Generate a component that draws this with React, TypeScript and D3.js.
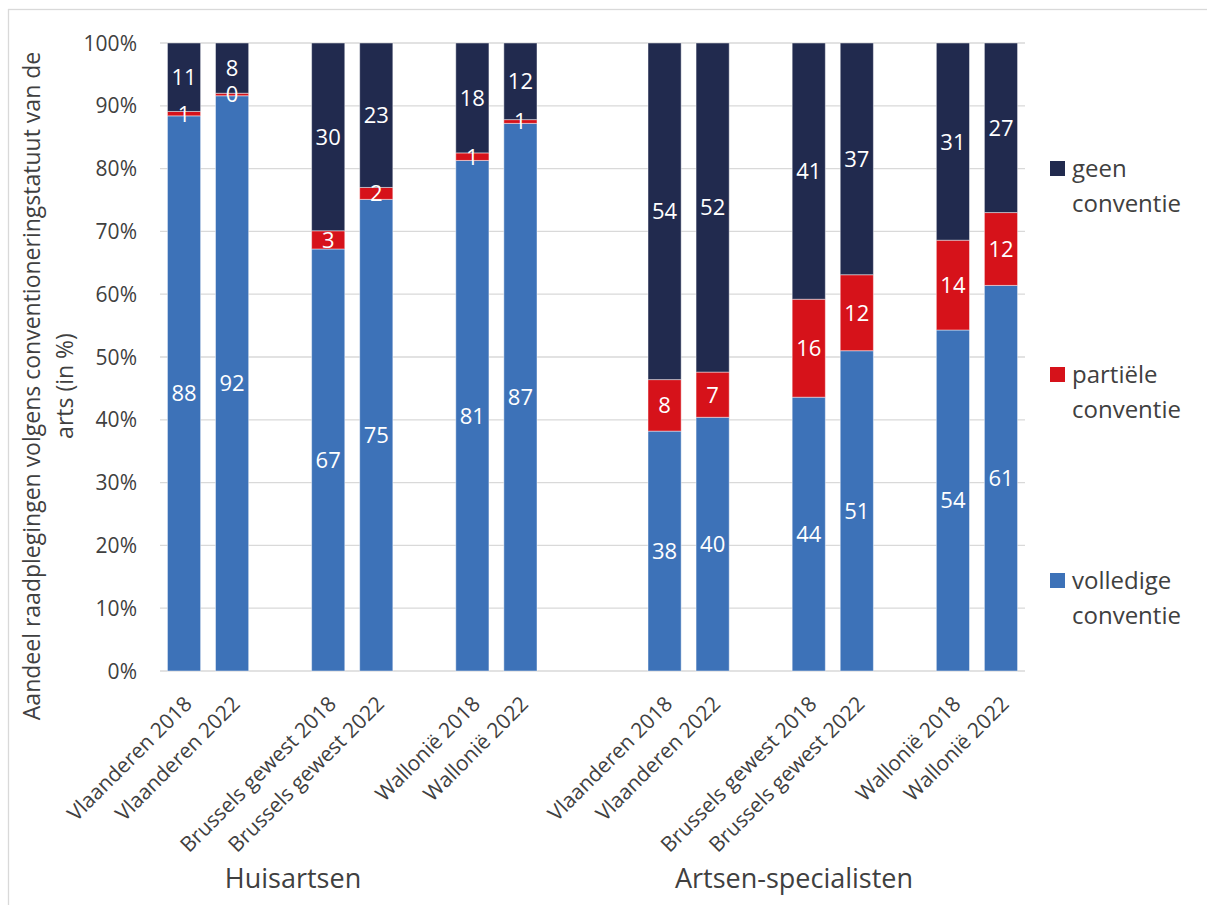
import React from "react";
import * as d3 from "d3";

const categories = [
  "Vlaanderen 2018",
  "Vlaanderen 2022",
  "Brussels gewest 2018",
  "Brussels gewest 2022",
  "Wallonië 2018",
  "Wallonië 2022",
];
const groups = ["Huisartsen", "Artsen-specialisten"];
const seriesNames = ["volledige conventie", "partiële conventie", "geen conventie"];

// Huisartsen
const volledigeHuis = [88.4, 91.6, 67.2, 75.1, 81.3, 87.2];
const partieleHuis = [0.7, 0.4, 2.9, 1.9, 1.2, 0.6];
const geenHuis = [10.9, 8.0, 29.9, 23.0, 17.5, 12.2];
// Artsen-specialisten
const volledigeSpec = [38.2, 40.4, 43.6, 51.0, 54.3, 61.4];
const partieleSpec = [8.2, 7.2, 15.6, 12.1, 14.3, 11.6];
const geenSpec = [53.6, 52.4, 40.8, 36.9, 31.4, 27.0];

const yTicks = [0, 10, 20, 30, 40, 50, 60, 70, 80, 90, 100];

const colors = ["#3d72b8", "#d6121a", "#212a4e"];
const FONT = "'Open Sans', 'Noto Sans', sans-serif";
const TXT = "#404040";

const W = 1207;
const H = 905;
const plot = { left: 160, right: 1025, top: 43, bottom: 671 };

export default function App() {
  const slots = d3.range(18);
  const x = d3
    .scaleBand<number>()
    .domain(slots)
    .range([plot.left, plot.right])
    .paddingInner(0.31)
    .paddingOuter(0.155);
  const y = d3.scaleLinear().domain([0, 100]).range([plot.bottom, plot.top]);

  const bars: { slot: number; label: string; values: number[] }[] = [];
  const table = [
    [volledigeHuis, partieleHuis, geenHuis],
    [volledigeSpec, partieleSpec, geenSpec],
  ];
  groups.forEach((g, gi) => {
    categories.forEach((c, ci) => {
      const slot = gi * 10 + Math.floor(ci / 2) * 3 + (ci % 2);
      bars.push({ slot, label: c, values: table[gi].map((s) => s[ci]) });
    });
  });

  const stack = bars.map((b) => {
    let acc = 0;
    return b.values.map((v, si) => {
      const y0 = acc;
      acc += v;
      return { si, y0, y1: acc, v };
    });
  });

  const bw = x.bandwidth();
  const groupLabelX = [293, 794];
  const legendY = [573, 367, 161];
  const midY = (plot.top + plot.bottom) / 2 + 29;

  return (
    <svg
      width={W}
      height={H}
      style={{ position: "absolute", left: 0, top: 0, background: "#fff" }}
      fontFamily={FONT}
    >
      <rect x={8.5} y={9.5} width={1300} height={1000} fill="#fff" stroke="#d9d9d9" strokeWidth={1.3} />

      {yTicks.map((t) => (
        <g key={t}>
          <line x1={plot.left} x2={plot.right} y1={y(t)} y2={y(t)} stroke="#d9d9d9" strokeWidth={1.3} />
          <text x={137} y={y(t)} dy="0.36em" textAnchor="end" fontSize={21} fill={TXT}>
            {t}%
          </text>
        </g>
      ))}

      {bars.map((b, bi) => (
        <g key={bi}>
          {stack[bi].map((s) => (
            <rect
              key={s.si}
              x={x(b.slot)!}
              y={y(s.y1)}
              width={bw}
              height={y(s.y0) - y(s.y1)}
              fill={colors[s.si]}
              stroke="#ffffff"
              strokeOpacity={0.45}
              strokeWidth={1}
            />
          ))}
          {stack[bi].map((s) => (
            <text
              key={"l" + s.si}
              x={x(b.slot)! + bw / 2}
              y={y((s.y0 + s.y1) / 2)}
              dy="0.36em"
              textAnchor="middle"
              fontSize={22}
              fill="#fff"
            >
              {Math.round(s.v)}
            </text>
          ))}
          <text
            transform={`translate(${x(b.slot)! + bw / 2 + 4},${plot.bottom + 29}) rotate(-45)`}
            dy="0.35em"
            textAnchor="end"
            fontSize={21}
            fill={TXT}
          >
            {b.label}
          </text>
        </g>
      ))}

      {groups.map((g, gi) => (
        <text key={g} x={groupLabelX[gi]} y={888} textAnchor="middle" fontSize={27} fill={TXT}>
          {g}
        </text>
      ))}

      <text transform={`translate(40,${midY}) rotate(-90)`} textAnchor="middle" fontSize={23} fill={TXT}>
        Aandeel raadplegingen volgens conventioneringstatuut van de
      </text>
      <text transform={`translate(73,${midY}) rotate(-90)`} textAnchor="middle" fontSize={23} fill={TXT}>
        arts (in %)
      </text>

      {seriesNames.map((name, si) => {
        const words = name.split(" ");
        return (
          <g key={name}>
            <rect x={1050} y={legendY[si]} width={15} height={15} fill={colors[si]} />
            <text x={1072} y={legendY[si] + 16} fontSize={24} fill={TXT}>
              {words[0]}
            </text>
            <text x={1072} y={legendY[si] + 51} fontSize={24} fill={TXT}>
              {words[1]}
            </text>
          </g>
        );
      })}
    </svg>
  );
}
